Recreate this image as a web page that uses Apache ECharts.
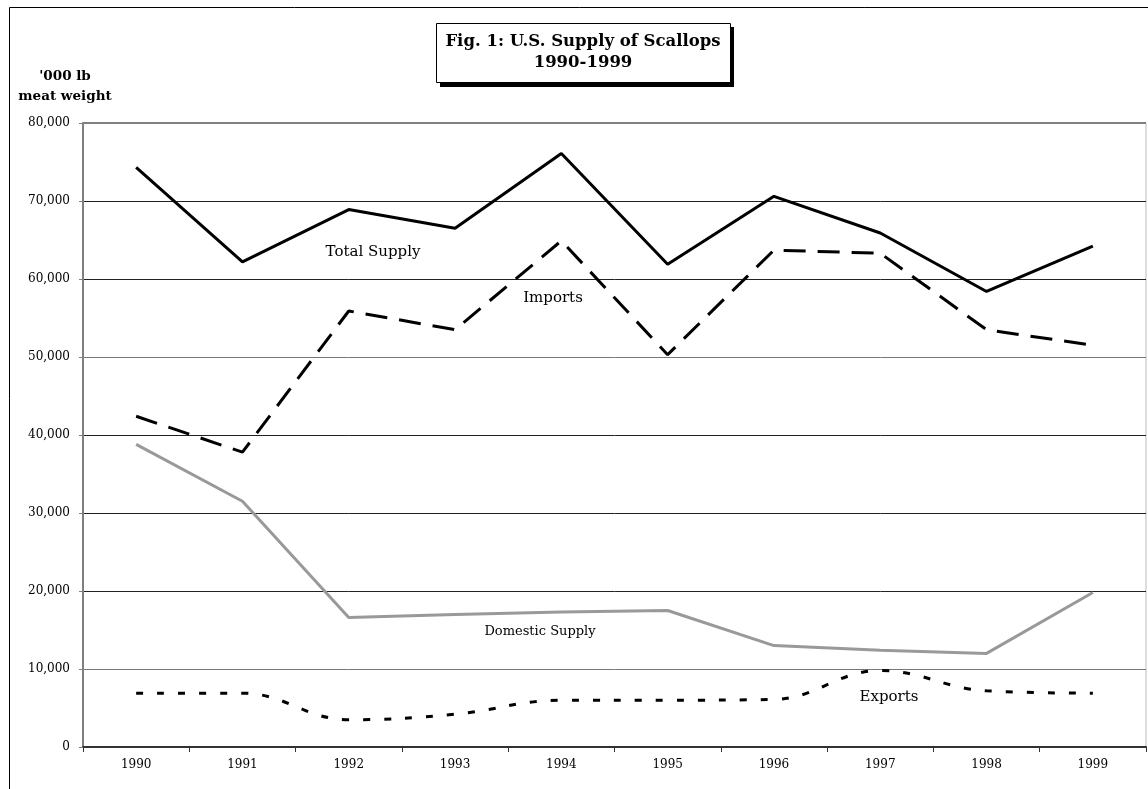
<!DOCTYPE html>
<html><head><meta charset="utf-8">
<script src="https://cdn.jsdelivr.net/npm/echarts@6/dist/echarts.min.js"></script>
<style>html,body{margin:0;padding:0;background:#fff}#c{width:1148px;height:789px}</style>
</head><body><div id="c"></div>
<script>
var years = ['1990','1991','1992','1993','1994','1995','1996','1997','1998','1999'];
var totalSupply = [74300, 62200, 68900, 66500, 76100, 61900, 70600, 65900, 58400, 64200];
var imports = [42400, 37800, 55900, 53500, 64900, 50300, 63700, 63300, 53500, 51500];
var domesticSupply = [38800, 31500, 16600, 17000, 17300, 17500, 13000, 12400, 12000, 19800];
var exportsData = [6900, 6900, 3500, 4200, 6000, 6000, 6100, 9800, 7200, 6900];
var yTicks = [0, 10000, 20000, 30000, 40000, 50000, 60000, 70000, 80000];

var serif = '"DejaVu Serif","Liberation Serif",serif';
var chart = echarts.init(document.getElementById('c'));
chart.setOption({
  animation: false,
  backgroundColor: '#fff',
  grid: {left: 83, top: 123, right: 2, bottom: 42, show: true, borderColor: '#bbb', borderWidth: 1},
  xAxis: {
    type: 'category', data: years, boundaryGap: true,
    axisLine: {lineStyle: {color: '#333', width: 2}},
    axisTick: {show: true, length: 5, lineStyle: {color: '#333', width: 1}},
    axisLabel: {color: '#000', fontFamily: serif, fontSize: 12, margin: 12}
  },
  yAxis: {
    type: 'value', min: yTicks[0], max: yTicks[yTicks.length-1], interval: 10000,
    axisLine: {show: true, lineStyle: {color: '#808080', width: 2}},
    axisTick: {show: true, length: 4, lineStyle: {color: '#808080'}},
    axisLabel: {color: '#000', fontFamily: serif, fontSize: 12, margin: 13,
      formatter: function(v){ return v.toLocaleString('en-US'); }},
    splitLine: {show: true, lineStyle: {color: ['#333','#777','#222','#222','#222','#777','#222','#222','#808080'], width: 1}}
  },
  series: [
    {name: 'Total Supply', type: 'line', data: totalSupply, symbol: 'none',
      lineStyle: {color: '#000', width: 3}},
    {name: 'Imports', type: 'line', data: imports, symbol: 'none',
      lineStyle: {color: '#000', width: 3, type: [22, 12]}},
    {name: 'Domestic Supply', type: 'line', data: domesticSupply, symbol: 'none',
      lineStyle: {color: '#999', width: 3}},
    {name: 'Exports', type: 'line', data: exportsData, symbol: 'none', smooth: 0.4,
      lineStyle: {color: '#000', width: 3, type: [7, 14]},
      markLine: {silent: true, symbol: 'none', label: {show: false},
        lineStyle: {color: '#808080', width: 2, type: 'solid'}, data: [{yAxis: 80000}]}}
  ],
  graphic: [
    {type: 'rect', shape: {x: 9.5, y: 7.5, width: 1150, height: 800}, style: {fill: null, stroke: '#000', lineWidth: 1}, silent: true, z: 0},
    {type: 'rect', shape: {x: 440, y: 27, width: 294, height: 60}, style: {fill: '#000'}, z: 10},
    {type: 'rect', shape: {x: 436.5, y: 23.5, width: 294, height: 59}, style: {fill: '#fff', stroke: '#000', lineWidth: 1}, z: 11},
    {type: 'text', x: 583, y: 42, z: 12, style: {text: 'Fig. 1: U.S. Supply of Scallops', textAlign: 'center', textVerticalAlign: 'middle',
      font: 'bold 16.5px ' + serif, fill: '#000'}},
    {type: 'text', x: 583, y: 63, z: 12, style: {text: '1990-1999', textAlign: 'center', textVerticalAlign: 'middle',
      font: 'bold 16.5px ' + serif, fill: '#000'}},
    {type: 'text', x: 65, y: 76, z: 12, style: {text: "'000 lb", textAlign: 'center', textVerticalAlign: 'middle',
      font: 'bold 13.5px ' + serif, fill: '#000'}},
    {type: 'text', x: 65, y: 96, z: 12, style: {text: 'meat weight', textAlign: 'center', textVerticalAlign: 'middle',
      font: 'bold 13.5px ' + serif, fill: '#000'}},
    {type: 'text', x: 373, y: 252, z: 12, style: {text: 'Total Supply', textAlign: 'center', textVerticalAlign: 'middle', font: '15px ' + serif, fill: '#000'}},
    {type: 'text', x: 553, y: 298, z: 12, style: {text: 'Imports', textAlign: 'center', textVerticalAlign: 'middle', font: '15px ' + serif, fill: '#000'}},
    {type: 'text', x: 540, y: 632, z: 12, style: {text: 'Domestic Supply', textAlign: 'center', textVerticalAlign: 'middle', font: '13px ' + serif, fill: '#000'}},
    {type: 'text', x: 889, y: 697, z: 12, style: {text: 'Exports', textAlign: 'center', textVerticalAlign: 'middle', font: '15px ' + serif, fill: '#000'}}
  ]
});
</script></body></html>
